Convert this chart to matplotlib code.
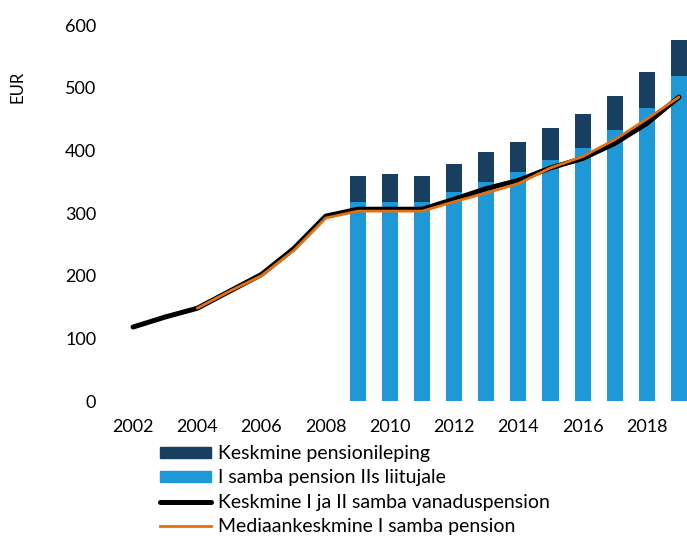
import matplotlib
matplotlib.use("Agg")
import matplotlib.pyplot as plt
from matplotlib.patches import Patch
from matplotlib.lines import Line2D

plt.rcParams['font.family'] = ['Lato', 'DejaVu Sans']
plt.rcParams['font.size'] = 13

# andmed
line_years = list(range(2002, 2020))
avg_pension = [118, 134, 148, 175, 202, 243, 295, 306, 306, 306, 322, 339, 352, 372, 387, 411, 443, 485]
median_years = list(range(2004, 2020))
median_pension = [148, 175, 200, 240, 292, 303, 303, 303, 318, 332, 347, 372, 390, 417, 450, 485]
bar_years = list(range(2009, 2020))
first_pillar = [317, 317, 317, 333, 349, 365, 384, 403, 432, 467, 518]
contract = [42, 45, 42, 45, 48, 48, 51, 55, 54, 58, 58]

labels = ["Keskmine pensionileping", "I samba pension IIs liitujale",
          "Keskmine I ja II samba vanaduspension", "Mediaankeskmine I samba pension"]
c_dark = "#183F5F"
c_blue = "#1E98D6"
c_orange = "#E4700F"

fig = plt.figure(figsize=(6.87, 5.38), dpi=100)
ax = fig.add_axes([117/687, 1 - 401/538, 1 - 117/687, (401 - 25)/538])

ax.bar(bar_years, first_pillar, width=0.5, color=c_blue, zorder=1)
ax.bar(bar_years, contract, width=0.5, bottom=first_pillar, color=c_dark, zorder=1)
ax.plot(line_years, avg_pension, color="black", lw=3.6, solid_capstyle="round", zorder=2)
ax.plot(median_years, median_pension, color=c_orange, lw=2.0, solid_capstyle="round", zorder=3)

ax.set_xlim(2001.5, 2019.25)
ax.set_ylim(0, 600)
ax.set_xticks(range(2002, 2020, 2))
ax.set_yticks(range(0, 601, 100))
ax.tick_params(length=0)
ax.tick_params(axis='y', pad=15)
ax.tick_params(axis='x', pad=13)
for s in ax.spines.values():
    s.set_visible(False)

fig.text(17/687, 1 - 87/538, "EUR", rotation=90, ha="center", va="center", fontsize=12)

handles = [Patch(color=c_dark), Patch(color=c_blue),
           Line2D([], [], color="black", lw=3.6, solid_capstyle="round"),
           Line2D([], [], color=c_orange, lw=2.0)]
fig.legend(handles, labels, loc="upper left", bbox_to_anchor=(160/687, 1 - 445/538),
           frameon=False, handlelength=2.6, handleheight=0.5, handletextpad=0.4,
           labelspacing=0.38, borderpad=0, borderaxespad=0, fontsize=14)

fig.savefig("out.png", dpi=100)
